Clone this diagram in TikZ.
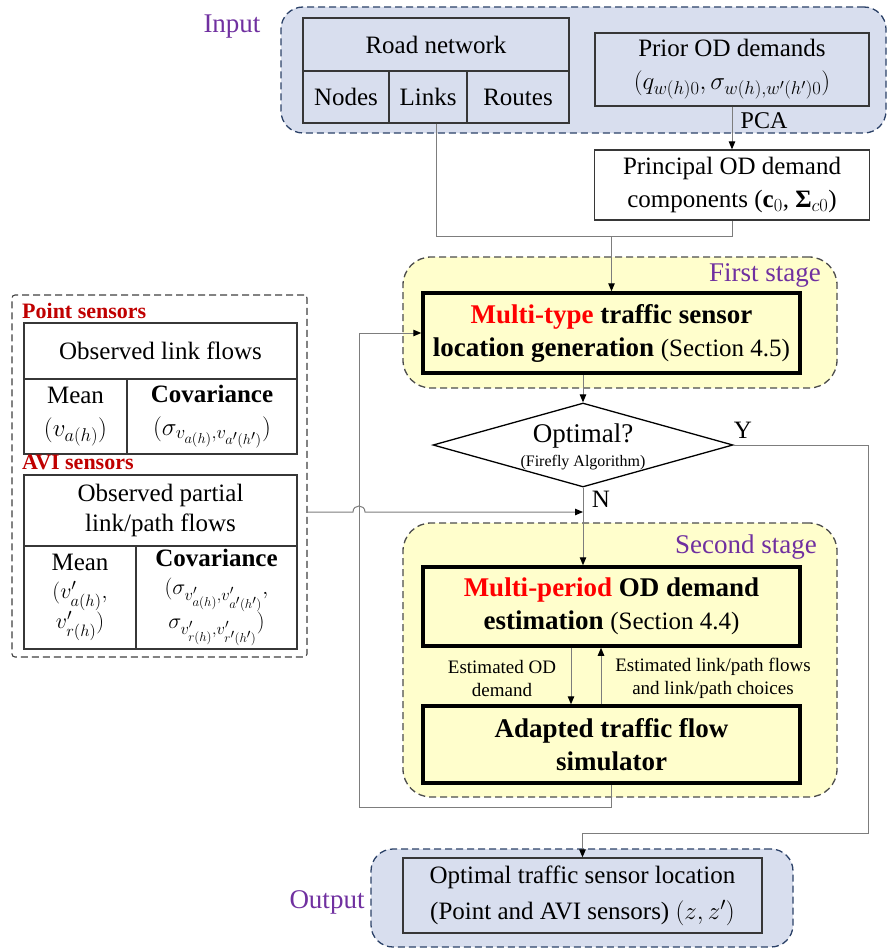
\RequirePackage{fix-cm}
\documentclass[tikz,border=0pt]{standalone}
\usepackage{amsmath}
\usepackage{fontspec}
\setmainfont{Liberation Serif}
\usetikzlibrary{arrows.meta,shapes.geometric}
\DeclareMathSizes{25}{25}{18.5}{14.5}
\DeclareMathSizes{22}{22}{16.5}{13}
\definecolor{inblue}{RGB}{216,222,238}
\definecolor{navy}{RGB}{44,66,104}
\definecolor{ylw}{RGB}{255,254,204}
\definecolor{purp}{RGB}{112,48,160}
\definecolor{dred}{RGB}{192,0,0}
\definecolor{lgray}{RGB}{125,125,125}
\definecolor{bord}{RGB}{55,55,55}
\newcommand{\fsz}[2]{\fontsize{#1pt}{#2pt}\selectfont}
\begin{document}
\begin{tikzpicture}[x=1pt,y=-1pt,
  bblob/.style={draw=navy, line width=1.3pt, dash pattern=on 7pt off 4pt, rounded corners=22pt, fill=inblue, inner sep=0pt},
  yblob/.style={draw=black!70, line width=1.3pt, dash pattern=on 7pt off 4pt, rounded corners=28pt, fill=ylw, inner sep=0pt},
  leftframe/.style={draw=black!75, line width=1.1pt, dash pattern=on 7pt off 4pt, rounded corners=3pt, fill=white, inner sep=0pt},
  cell/.style={draw=bord, line width=1.3pt, inner sep=0pt, align=center, font=\fsz{25}{33}},
  tbox/.style={draw=black, line width=3.5pt, fill=ylw, inner sep=0pt, align=center, font=\fsz{27}{33}\bfseries},
  purplbl/.style={text=purp, font=\fsz{27}{30}, inner sep=0pt},
  redlbl/.style={text=dred, font=\fsz{22}{26}\bfseries, inner sep=0pt, anchor=west},
  lbl/.style={inner sep=0pt, align=center},
  conn/.style={draw=lgray, line width=1pt},
  arr/.style={conn, -{Triangle[length=8pt,width=6.5pt,color=black]}}
]
\useasboundingbox (0,0) rectangle (887,950);

% ---------- group backgrounds ----------
\node[bblob, minimum width=605pt, minimum height=126pt] (inblob) at (583.5,70) {};
\node[yblob, minimum width=434pt, minimum height=131pt] (fblob) at (620,322.5) {};
\node[yblob, minimum width=434pt, minimum height=274pt] (sblob) at (620,660) {};
\node[bblob, minimum width=422pt, minimum height=98pt] (oblob) at (582,898) {};
\node[leftframe, minimum width=295pt, minimum height=362pt] (sensors) at (159.5,476) {};

% ---------- input ----------
\node[purplbl] (inlbl) at (232,27) {Input};
\node[cell, minimum width=266pt, minimum height=53pt] (rn) at (436,44.5) {Road network};
\node[cell, minimum width=86pt, minimum height=52pt] (nd) at (346,97) {Nodes};
\node[cell, minimum width=78pt, minimum height=52pt] (lk) at (428,97) {Links};
\node[cell, minimum width=102pt, minimum height=52pt] (rt) at (518,97) {Routes};
\node[cell, fill=inblue, minimum width=274pt, minimum height=73pt] (prior) at (732,69.5)
  {Prior OD demands\\$(q_{w(h)0},\sigma_{w(h),w'(h')0})$};
\node[lbl, font=\fsz{24}{28}] (pca) at (764,121) {PCA};
\node[cell, fill=white, minimum width=275pt, minimum height=70pt] (pcomp) at (732,185)
  {Principal OD demand\\components (\textbf{c}$_0$, \textbf{Σ}$_{c0}$)};

% ---------- first stage ----------
\node[purplbl, anchor=east] (fslbl) at (821,275) {First stage};
\node[tbox, minimum width=377pt, minimum height=80pt] (mtype) at (611.5,333)
  {\textcolor{red}{Multi-type} traffic sensor\\location generation {\mdseries\fsz{25}{33}(Section 4.5)}};

% ---------- decision ----------
\node[diamond, draw=black, line width=1.3pt, fill=white, inner sep=0pt,
      minimum width=300pt, minimum height=84pt] (opt) at (583,445) {};
\node[lbl, font=\fsz{27}{30}] (optt) at (583,436) {Optimal?};
\node[lbl, font=\fsz{16}{18}] (fire) at (583,463) {(Firefly Algorithm)};
\node[lbl, font=\fsz{25}{28}] (ylbl) at (743,430) {Y};
\node[lbl, font=\fsz{25}{28}] (nlbl) at (601,499) {N};

% ---------- second stage ----------
\node[purplbl, anchor=east] (sslbl) at (817,547) {Second stage};
\node[tbox, minimum width=377pt, minimum height=79pt] (mper) at (611.5,606.5)
  {\textcolor{red}{Multi-period} OD demand\\estimation {\mdseries\fsz{25}{33}(Section 4.4)}};
\node[tbox, minimum width=377pt, minimum height=77pt] (adapt) at (611.5,744.5)
  {Adapted traffic flow\\simulator};
\node[lbl, font=\fsz{19}{23}] (eod) at (502,678) {Estimated OD\\demand};
\node[lbl, font=\fsz{19}{23}] (elp) at (713,678) {Estimated link/path flows\\and link/path choices};

% ---------- output ----------
\node[purplbl] (outlbl) at (327,902) {Output};
\node[cell, fill=inblue, minimum width=359pt, minimum height=75pt, font=\fsz{25}{36}] (obox) at (582.5,895.5)
  {Optimal traffic sensor location\\(Point and AVI sensors) $(z,z')$};

% ---------- sensors ----------
\node[redlbl] (ptlbl) at (22,311) {Point sensors};
\node[cell, fill=white, minimum width=273pt, minimum height=56pt] (pth) at (160.5,351) {Observed link flows};
\node[cell, fill=white, minimum width=103pt, minimum height=75pt] (ptm) at (75.5,416.5)
  {Mean\\$(v_{a(h)})$};
\node[cell, fill=white, minimum width=170pt, minimum height=75pt] (ptc) at (212,416.5)
  {\textbf{Covariance}\\$(\sigma_{v_{a(h)},v_{a'(h')}})$};
\node[redlbl] (avilbl) at (22,462) {AVI sensors};
\node[cell, fill=white, minimum width=273pt, minimum height=71pt, font=\fsz{25}{30}] (avih) at (160.5,510.5)
  {Observed partial\\link/path flows};
\node[cell, fill=white, minimum width=112pt, minimum height=103pt, font=\fsz{25}{28}] (avim) at (80,597.5)
  {Mean\\{\fsz{22}{28}$(v'_{a(h)},$}\\{\fsz{22}{28}$v'_{r(h)})$}};
\node[cell, fill=white, minimum width=161pt, minimum height=103pt, font=\fsz{25}{28}] (avic) at (216.5,597.5)
  {\textbf{Covariance}\\{\fsz{22}{28}$(\sigma_{v'_{a(h)},v'_{a'(h')}},$}\\{\fsz{22}{28}$\sigma_{v'_{r(h)},v'_{r'(h')}})$}};

% ---------- connectors ----------
\coordinate (mrg) at (611.5,236);
\coordinate (fbc) at (359,807);
\coordinate (yr) at (868,833);
\coordinate (pfs) at (307,512);

\draw[arr] (prior.south) -- (pcomp.north);
\draw[conn] ([xshift=8pt]lk.south) |- (pcomp.south |- mrg) -- (pcomp.south);
\draw[arr] (mrg) -- (mtype.north);
\draw[arr] (opt.north |- mtype.south) -- (opt.north);
\draw[arr] (opt.south) -- (opt.south |- mper.north);
\draw[arr] (opt.east) -| (yr) -| (obox.north);
\draw[arr] (adapt.south) |- (fbc) |- (mtype.west);
\draw[arr] (pfs) -- (353,512) .. controls (353,504) and (365,504) .. (365,512) -- (opt.south |- pfs);
\draw[arr] ([xshift=-40.5pt]mper.south) -- ([xshift=-40.5pt]adapt.north);
\draw[arr] ([xshift=-10.5pt]adapt.north) -- ([xshift=-10.5pt]mper.south);
\end{tikzpicture}
\end{document}
